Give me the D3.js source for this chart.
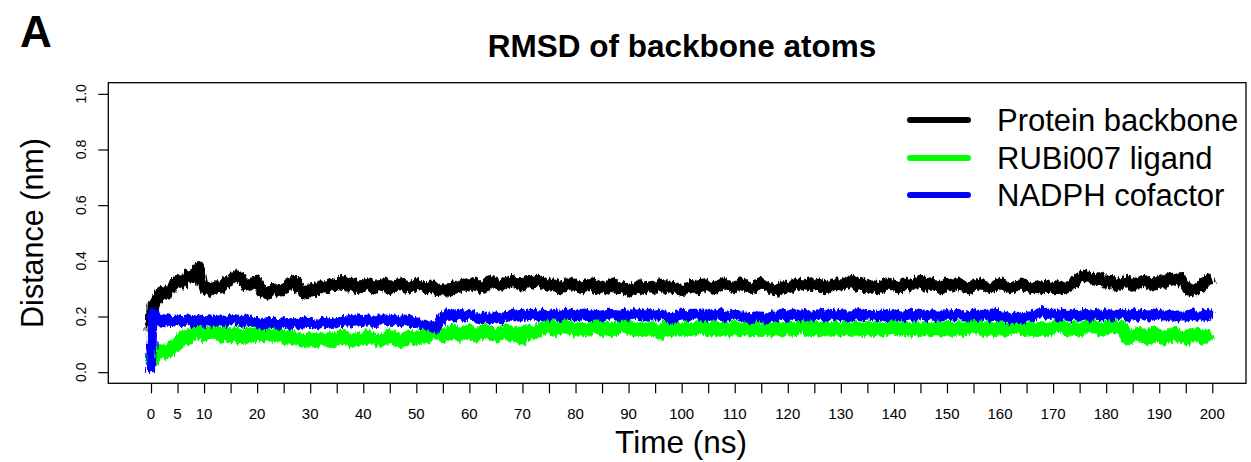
<!DOCTYPE html>
<html><head><meta charset="utf-8">
<script src="https://cdn.jsdelivr.net/npm/d3@7"></script>
<style>body{margin:0;background:#fff}svg{display:block;font-family:"Liberation Sans",Arial,sans-serif}</style>
</head><body><svg id="c" width="1251" height="462"></svg>
<script>
// ---- data (time in ns, RMSD in nm) ----
const earlyTimes = [0, 0.2, 0.5];
const time = earlyTimes.concat(d3.range(1, 201));
const seriesNames = ["Protein backbone", "RUBi007 ligand", "NADPH cofactor"];
const seriesColors = ["#000000", "#00ff00", "#0000ff"];
const protein = [0.15,0.24,0.22,
0.26,0.29,0.28,0.31,0.33,0.32,0.35,0.34,0.38,0.30,
0.29,0.31,0.30,0.32,0.33,0.35,0.34,0.31,0.32,0.33,
0.29,0.28,0.30,0.29,0.30,0.31,0.33,0.30,0.28,0.30,
0.29,0.31,0.30,0.32,0.31,0.33,0.31,0.32,0.30,0.31,
0.32,0.30,0.31,0.32,0.30,0.31,0.32,0.31,0.30,0.32,
0.31,0.30,0.31,0.29,0.30,0.29,0.31,0.30,0.32,0.31,
0.32,0.30,0.31,0.33,0.32,0.31,0.32,0.33,0.32,0.31,
0.33,0.32,0.33,0.32,0.31,0.32,0.30,0.31,0.32,0.31,
0.30,0.31,0.32,0.30,0.31,0.30,0.32,0.30,0.31,0.29,
0.30,0.31,0.30,0.31,0.30,0.32,0.30,0.31,0.30,0.29,
0.30,0.31,0.30,0.32,0.31,0.30,0.31,0.32,0.31,0.30,
0.32,0.31,0.30,0.31,0.32,0.31,0.30,0.29,0.31,0.30,
0.31,0.32,0.31,0.32,0.31,0.32,0.30,0.31,0.32,0.31,
0.32,0.33,0.31,0.32,0.30,0.31,0.30,0.31,0.32,0.31,
0.30,0.32,0.31,0.32,0.33,0.31,0.32,0.31,0.30,0.32,
0.31,0.32,0.31,0.30,0.31,0.32,0.31,0.30,0.31,0.32,
0.31,0.30,0.31,0.32,0.31,0.30,0.31,0.30,0.31,0.30,
0.31,0.30,0.31,0.32,0.34,0.35,0.34,0.33,0.34,0.32,
0.33,0.31,0.32,0.33,0.31,0.32,0.33,0.32,0.31,0.33,
0.32,0.34,0.33,0.34,0.31,0.29,0.30,0.31,0.33,0.34];
const ligand = [0.05,0.04,0.08,
0.06,0.08,0.07,0.09,0.10,0.13,0.12,0.14,0.15,0.13,
0.14,0.15,0.13,0.14,0.13,0.14,0.12,0.14,0.13,0.14,
0.13,0.14,0.13,0.14,0.12,0.13,0.12,0.12,0.11,0.12,
0.11,0.12,0.12,0.11,0.12,0.13,0.12,0.11,0.12,0.12,
0.13,0.12,0.11,0.12,0.13,0.12,0.11,0.12,0.13,0.12,
0.13,0.13,0.14,0.14,0.13,0.14,0.15,0.13,0.14,0.15,
0.13,0.14,0.15,0.14,0.13,0.14,0.15,0.13,0.14,0.12,
0.15,0.14,0.15,0.16,0.17,0.15,0.16,0.17,0.16,0.15,
0.16,0.15,0.16,0.17,0.15,0.16,0.15,0.16,0.17,0.16,
0.15,0.16,0.15,0.16,0.15,0.14,0.16,0.15,0.16,0.15,
0.16,0.15,0.16,0.17,0.15,0.16,0.15,0.16,0.15,0.16,
0.15,0.16,0.15,0.16,0.15,0.16,0.15,0.16,0.15,0.16,
0.15,0.16,0.17,0.15,0.16,0.15,0.16,0.15,0.16,0.15,
0.16,0.15,0.16,0.15,0.16,0.15,0.16,0.15,0.16,0.17,
0.15,0.16,0.15,0.16,0.15,0.16,0.15,0.16,0.15,0.16,
0.15,0.16,0.15,0.16,0.17,0.16,0.15,0.16,0.15,0.16,
0.15,0.16,0.17,0.16,0.15,0.16,0.15,0.16,0.15,0.16,
0.17,0.16,0.15,0.16,0.15,0.16,0.17,0.16,0.15,0.16,
0.17,0.16,0.16,0.12,0.13,0.14,0.13,0.12,0.14,0.13,
0.12,0.13,0.14,0.13,0.12,0.13,0.14,0.12,0.13,0.14];
const cofactor = [0.00,0.16,0.21,
0.20,0.18,0.19,0.18,0.19,0.18,0.19,0.18,0.19,0.18,
0.19,0.18,0.19,0.18,0.19,0.19,0.18,0.19,0.18,0.18,
0.17,0.18,0.18,0.17,0.18,0.17,0.18,0.17,0.18,0.18,
0.17,0.18,0.18,0.17,0.18,0.18,0.19,0.18,0.19,0.18,
0.19,0.18,0.19,0.19,0.18,0.19,0.18,0.19,0.18,0.18,
0.17,0.17,0.16,0.16,0.20,0.21,0.20,0.21,0.20,0.21,
0.20,0.19,0.20,0.19,0.20,0.19,0.20,0.21,0.20,0.21,
0.20,0.21,0.20,0.21,0.20,0.21,0.20,0.21,0.21,0.20,
0.21,0.21,0.20,0.21,0.20,0.21,0.21,0.20,0.21,0.20,
0.21,0.21,0.20,0.21,0.20,0.21,0.20,0.19,0.20,0.21,
0.20,0.21,0.21,0.20,0.21,0.20,0.21,0.20,0.20,0.21,
0.20,0.20,0.19,0.20,0.20,0.19,0.20,0.20,0.21,0.20,
0.21,0.20,0.21,0.20,0.20,0.21,0.20,0.21,0.20,0.21,
0.20,0.20,0.21,0.20,0.21,0.20,0.20,0.21,0.20,0.21,
0.20,0.20,0.21,0.20,0.21,0.20,0.21,0.20,0.20,0.21,
0.20,0.21,0.20,0.20,0.21,0.20,0.21,0.20,0.21,0.20,
0.20,0.19,0.20,0.19,0.20,0.20,0.21,0.22,0.21,0.21,
0.20,0.21,0.20,0.21,0.20,0.21,0.20,0.21,0.20,0.21,
0.20,0.21,0.21,0.20,0.21,0.20,0.21,0.20,0.21,0.21,
0.20,0.21,0.20,0.20,0.20,0.21,0.20,0.20,0.21,0.20];
const xTicks = d3.range(0, 201, 5);
const xTickLabels = [0,5,10,20,30,40,50,60,70,80,90,100,110,120,130,140,150,160,170,180,190,200];
const yTicks = [0, 0.2, 0.4, 0.6, 0.8, 1.0];

// ---- layout ----
const svg = d3.select("#c");
const box = {left:108.3, right:1246, top:82.7, bottom:383.3};
const x = d3.scaleLinear().domain([0, 200]).range([151, 1212.3]);
const y = d3.scaleLinear().domain([-0.04, 1.04]).range([box.bottom, box.top]);
const bandWidth = [11, 13, 10];

// rough-edge filter to mimic dense MD trajectory noise
const defs = svg.append("defs");
const f = defs.append("filter").attr("id", "rough").attr("x", "-2%").attr("y", "-50%").attr("width", "104%").attr("height", "200%");
f.append("feTurbulence").attr("type", "fractalNoise").attr("baseFrequency", "0.45 0.08").attr("numOctaves", 2).attr("seed", 3).attr("result", "n");
f.append("feDisplacementMap").attr("in", "SourceGraphic").attr("in2", "n").attr("scale", 7)
  .attr("xChannelSelector", "A").attr("yChannelSelector", "R");

// panel letter and title
svg.append("text").attr("x", 20).attr("y", 47).attr("font-size", 44).attr("font-weight", "bold").text("A");
svg.append("text").attr("x", 682).attr("y", 57).attr("text-anchor", "middle")
  .attr("font-size", 31.5).attr("font-weight", "bold").text("RMSD of backbone atoms");

// series (order: protein, ligand, cofactor)
const seriesData = [protein, ligand, cofactor];
const line = d3.line().x((d, i) => x(time[i])).y(d => y(d));
seriesData.forEach((vals, k) => {
  svg.append("path").datum(vals).attr("d", line)
    .attr("fill", "none").attr("stroke", seriesColors[k])
    .attr("stroke-width", bandWidth[k]).attr("stroke-linejoin", "round").attr("stroke-linecap", "butt")
    .attr("filter", "url(#rough)");
});

// box
svg.append("rect").attr("x", box.left).attr("y", box.top)
  .attr("width", box.right - box.left).attr("height", box.bottom - box.top)
  .attr("fill", "none").attr("stroke", "#000").attr("stroke-width", 1.3);

// x axis
const xa = svg.append("g").attr("transform", `translate(0,${box.bottom})`)
  .call(d3.axisBottom(x).tickValues(xTicks).tickSize(10).tickFormat(""));
xa.select(".domain").remove();
xa.selectAll("line").attr("stroke-width", 1.2);
svg.append("g").selectAll("text").data(xTickLabels).join("text")
  .attr("x", d => x(d)).attr("y", 419).attr("text-anchor", "middle").attr("font-size", 15).text(d => d);
svg.append("text").attr("x", 681).attr("y", 453).attr("text-anchor", "middle").attr("font-size", 31.5).text("Time (ns)");

// y axis
const ya = svg.append("g").attr("transform", `translate(${box.left},0)`)
  .call(d3.axisLeft(y).tickValues(yTicks).tickSize(10).tickFormat(""));
ya.select(".domain").remove();
ya.selectAll("line").attr("stroke-width", 1.2);
svg.append("g").selectAll("text").data(yTicks).join("text")
  .attr("transform", d => `translate(86,${y(d)}) rotate(-90)`)
  .attr("text-anchor", "middle").attr("font-size", 14).text(d => d3.format(".1f")(d));
svg.append("text").attr("transform", "translate(43,233) rotate(-90)")
  .attr("text-anchor", "middle").attr("font-size", 30.5).text("Distance (nm)");

// legend
const legY = [120, 158, 195];
const lg = svg.append("g");
seriesNames.forEach((n, k) => {
  lg.append("line").attr("x1", 910).attr("x2", 968).attr("y1", legY[k]).attr("y2", legY[k])
    .attr("stroke", seriesColors[k]).attr("stroke-width", 6).attr("stroke-linecap", "round");
  lg.append("text").attr("x", 997).attr("y", legY[k] + 11).attr("font-size", 31).text(n);
});
</script></body></html>
